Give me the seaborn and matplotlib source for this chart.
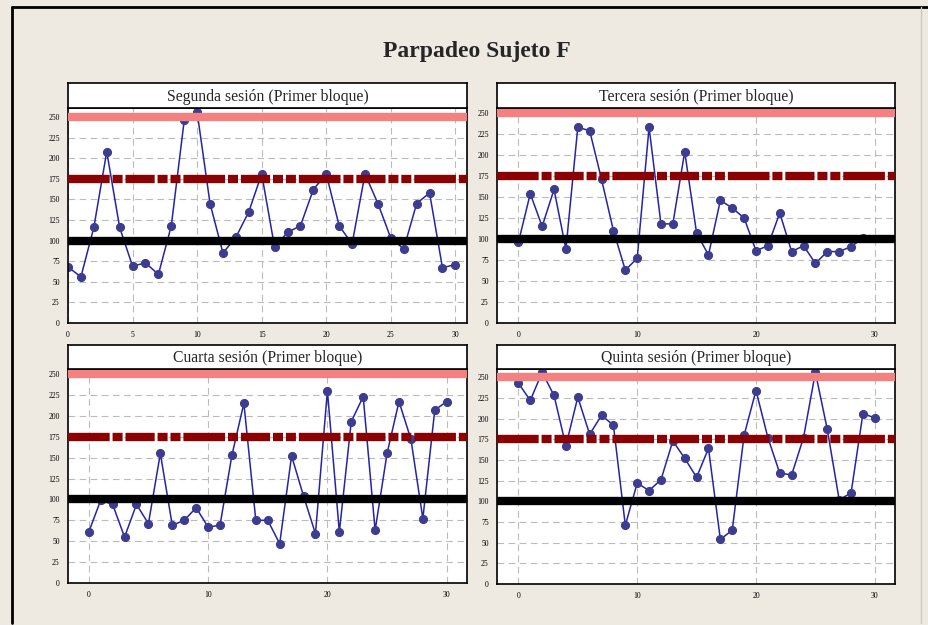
import numpy as np
import pandas as pd
import matplotlib
matplotlib.use("Agg")
import matplotlib.pyplot as plt
from matplotlib.lines import Line2D
import seaborn as sns

# ---- data ----
titles = ["Segunda sesión (Primer bloque)", "Tercera sesión (Primer bloque)",
          "Cuarta sesión (Primer bloque)", "Quinta sesión (Primer bloque)"]
segunda = [68, 56, 116, 208, 116, 69, 73, 59, 118, 246, 256, 145, 85, 104, 135, 181,
           92, 110, 118, 162, 181, 118, 96, 181, 145, 103, 90, 145, 158, 67, 71]
tercera = [96, 154, 115, 159, 88, 233, 229, 171, 110, 63, 77, 233, 118, 118, 204, 107,
           81, 146, 137, 125, 86, 92, 131, 85, 92, 71, 85, 85, 91, 101]
cuarta = [61, 99, 94, 55, 94, 71, 155, 69, 75, 90, 67, 69, 153, 215, 75, 75,
          47, 152, 104, 59, 230, 61, 193, 223, 63, 155, 217, 172, 77, 207, 217]
quinta = [243, 222, 256, 228, 167, 226, 181, 204, 192, 71, 122, 113, 126, 173, 152, 129,
          164, 54, 65, 180, 234, 177, 134, 132, 177, 256, 187, 102, 110, 206, 201]
series = [segunda, tercera, cuarta, quinta]
limits = [250, 175, 100]
yticks = list(range(0, 251, 25))
xticks_list = [[0, 5, 10, 15, 20, 25, 30], [0, 10, 20, 30], [0, 10, 20, 30], [0, 10, 20, 30]]

sns.set_style("white")
plt.rcParams["font.family"] = ["Liberation Serif", "DejaVu Serif"]

W, H = 929, 625
fig = plt.figure(figsize=(W / 100, H / 100), dpi=100)
fig.patch.set_facecolor("#EEEAE2")

def frac(l, t, r, b):
    return [l / W, (H - b) / H, (r - l) / W, (b - t) / H]

# pixel boxes: (left, top, right, bottom) of plot area, title box top
boxes = [(68, 108, 467, 323, 83), (497, 108, 895, 323, 83),
         (68, 369, 467, 583, 345), (497, 369, 895, 584, 345)]
xlims = [(0, 30.9), (-1.8, 31.7), (-1.74, 31.7), (-1.8, 31.7)]
ylims = [(0, 261), (0, 256), (0, 256), (0, 260)]

for i, (l, t, r, b, tt) in enumerate(boxes):
    ax = fig.add_axes(frac(l, t, r, b))
    ax.set_facecolor("white")
    vals = series[i]
    df = pd.DataFrame({"x": np.arange(len(vals)), "y": vals})
    sns.lineplot(data=df, x="x", y="y", ax=ax, color="#2424A8", lw=1.1,
                 marker="o", markersize=5.8, markerfacecolor="#3C3C90",
                 markeredgecolor="#3C3C90", zorder=2)
    ax.axhline(limits[0], color="#F48080", lw=6, zorder=3)
    ax.axhline(limits[1], color="#8B0000", lw=6, zorder=3,
               linestyle=(0, (5, 0.35, 1.2, 0.35, 3.5, 0.35, 1.2, 0.35, 1.2, 0.35)))
    ax.axhline(limits[2], color="black", lw=6, zorder=3)
    ax.set_xlim(*xlims[i])
    ax.set_ylim(*ylims[i])
    ax.set_xticks(xticks_list[i])
    ax.set_yticks(yticks)
    ax.grid(True, color="#BBBBBB", lw=0.8, linestyle=(0, (6, 4)))
    ax.set_axisbelow(True)
    ax.set_xlabel("")
    ax.set_ylabel("")
    ax.tick_params(axis="both", labelsize=5.5, length=4, width=1, direction="out",
                   pad=2, colors="black")
    for s in ax.spines.values():
        s.set_color("black")
        s.set_linewidth(1.2)
    # title box
    tax = fig.add_axes(frac(l, tt, r, t))
    tax.set_facecolor("white")
    tax.set_xticks([]); tax.set_yticks([])
    for s in tax.spines.values():
        s.set_color("black")
        s.set_linewidth(1.2)
    tax.text(0.5, 0.45, titles[i], ha="center", va="center", fontsize=11.3,
             transform=tax.transAxes)

fig.text(477 / W, 1 - 52 / H, "Parpadeo Sujeto F", ha="center", va="center",
         fontsize=17, fontweight="bold")

# outer frame
fig.add_artist(Line2D([12 / W, 1], [1 - 7 / H, 1 - 7 / H], color="black", lw=2))
fig.add_artist(Line2D([12 / W, 12 / W], [1 - 7 / H, 2 / H], color="black", lw=2))
fig.add_artist(Line2D([921 / W, 921 / W], [1 - 7 / H, 2 / H], color="#CCC8C0", lw=1))

fig.savefig("out.png", dpi=100, facecolor=fig.get_facecolor())
